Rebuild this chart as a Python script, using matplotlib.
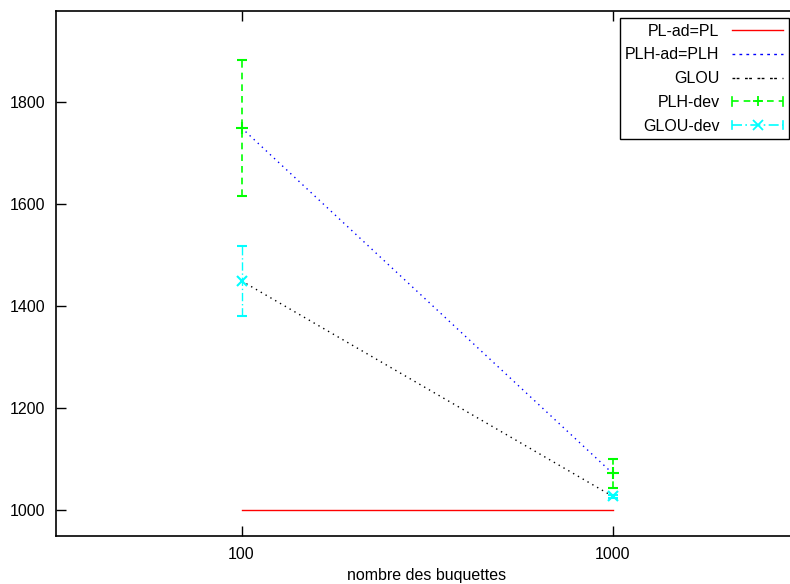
import matplotlib.pyplot as plt
import numpy as np
from matplotlib.lines import Line2D

plt.rcParams['font.family'] = ['Liberation Sans', 'DejaVu Sans']

# data
nb = [100, 1000]
pl = [1000, 1000]
plh = [1749, 1072]
glou = [1449, 1027]
plh_err = [133, 28]
glou_err = [69, 3]


class ErrHandle(object):
    # gnuplot-like errorbar legend sample: line with caps and marker in middle
    def __init__(self, color, ls, marker):
        self.color = color
        self.ls = ls
        self.marker = marker

class ErrHandler(object):
    def legend_artist(self, legend, h, fontsize, handlebox):
        x0, y0 = handlebox.xdescent, handlebox.ydescent
        w, ht = handlebox.width, handlebox.height
        ym = y0 + ht / 2
        tr = handlebox.get_transform()
        arts = [
            Line2D([x0, x0 + w], [ym, ym], color=h.color, ls=h.ls, lw=1.2, transform=tr),
            Line2D([x0, x0], [ym - 3, ym + 3], color=h.color, lw=1.2, transform=tr),
            Line2D([x0 + w, x0 + w], [ym - 3, ym + 3], color=h.color, lw=1.2, transform=tr),
            Line2D([x0 + w / 2], [ym], color=h.color, marker=h.marker, ms=7, mew=1.3,
                   ls='none', transform=tr),
        ]
        for a in arts:
            handlebox.add_artist(a)
        return arts[0]


fig = plt.figure(figsize=(7.9, 5.84), dpi=100)
ax = fig.add_axes([56 / 790, 48 / 584, 742 / 790, 525 / 584])

ax.plot(nb, pl, color='#ff0000', lw=1.0)
ax.plot(nb, plh, color='#0000ff', lw=1.0, ls=(0, (1, 3)))
ax.plot(nb, glou, color='black', lw=1.0, ls=(0, (1, 3)))

e1 = ax.errorbar(nb, plh, yerr=plh_err, fmt='+', color='#00ff00', ms=8, mew=1.5,
                 elinewidth=1.2, capsize=3.5, capthick=1.2)
e1[2][0].set_linestyle((0, (4, 3)))
e2 = ax.errorbar(nb, glou, yerr=glou_err, fmt='x', color='#00ffff', ms=7, mew=1.5,
                 elinewidth=1.0, capsize=3.5, capthick=1.0)
e2[2][0].set_linestyle((0, (6, 2, 1, 2)))

ax.set_xscale('log')
ax.set_xlim(10 ** 1.5, 10 ** 3.5)
ax.set_ylim(949, 1978)
ax.set_xticks(nb)
ax.set_xticklabels(['100', '1000'])
ax.xaxis.set_minor_locator(plt.NullLocator())
ax.set_yticks([1000, 1200, 1400, 1600, 1800])
ax.tick_params(direction='in', length=7, width=1, top=True, right=False,
               labelsize=11.5, pad=8)
for s in ax.spines.values():
    s.set_linewidth(1.2)
ax.set_xlabel('nombre des buquettes', fontsize=11.5, labelpad=4)

handles = [
    Line2D([], [], color='#ff0000', lw=1.0),
    Line2D([], [], color='#0000ff', lw=1.0, ls=(0, (2, 3))),
    Line2D([], [], color='black', lw=1.0, ls=(0, (2, 1, 2, 4))),
    ErrHandle('#00ff00', (0, (4, 3)), '+'),
    ErrHandle('#00ffff', (0, (6, 2, 1, 2)), 'x'),
]
labels = ['PL-ad=PL', 'PLH-ad=PLH', 'GLOU', 'PLH-dev', 'GLOU-dev']
leg = ax.legend(handles, labels, loc='upper right',
                bbox_to_anchor=(789 / 790, 1 - 18 / 584), bbox_transform=fig.transFigure,
                markerfirst=False, fontsize=11.5, handlelength=3.2, labelspacing=0.55,
                borderpad=0.35, handletextpad=0.8, fancybox=False, framealpha=1,
                edgecolor='black', borderaxespad=0,
                handler_map={ErrHandle: ErrHandler()})
leg.get_frame().set_linewidth(1.0)
for t in leg.get_texts():
    t.set_ha('right')
leg._legend_box.align = 'right'

fig.savefig('out.png', dpi=100)
